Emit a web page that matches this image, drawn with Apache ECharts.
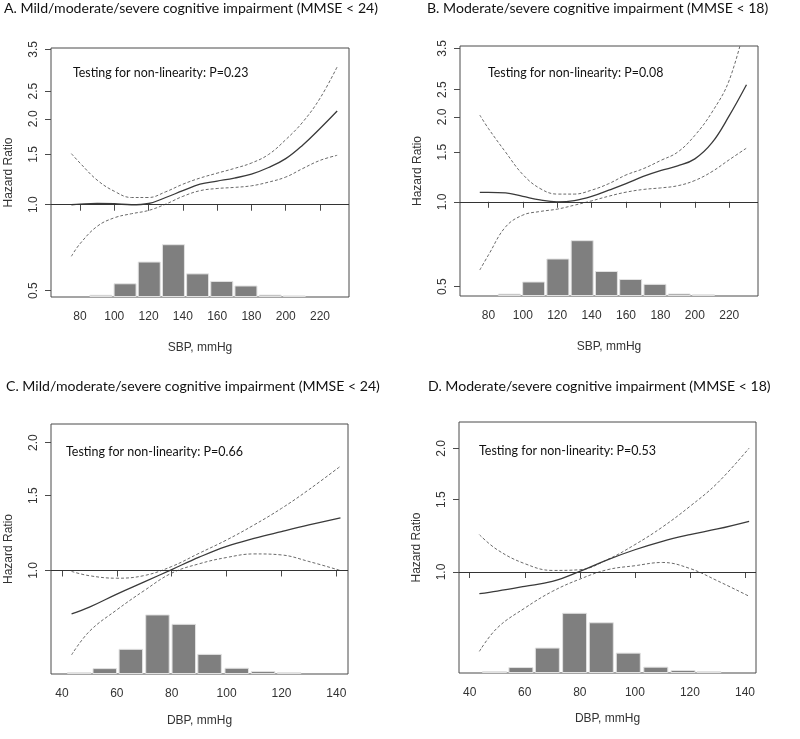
<!DOCTYPE html>
<html>
<head>
<meta charset="utf-8">
<script src="https://cdn.jsdelivr.net/npm/echarts@6/dist/echarts.min.js"></script>
<style>
  html, body { margin: 0; padding: 0; background: #fff; }
  #chart { width: 800px; height: 739px; }
</style>
</head>
<body>
<div id="chart"></div>
<script>
// spline curves (hazard ratio)
const sbpX = [75, 80, 90, 100, 110, 120, 130, 140, 150, 160, 170, 180, 190, 200, 210, 220, 230]
const aEst = [1.0, 1.005, 1.01, 1.008, 1.0, 1.01, 1.06, 1.12, 1.18, 1.21, 1.24, 1.28, 1.35, 1.45, 1.62, 1.85, 2.13]
const aLow = [0.66, 0.73, 0.84, 0.9, 0.93, 0.955, 1.005, 1.07, 1.12, 1.14, 1.15, 1.165, 1.2, 1.25, 1.34, 1.43, 1.49]
const aUp = [1.51, 1.4, 1.22, 1.115, 1.06, 1.06, 1.11, 1.18, 1.24, 1.29, 1.34, 1.4, 1.5, 1.69, 1.95, 2.36, 3.04]
const bEst = [1.08, 1.08, 1.075, 1.045, 1.015, 1.0, 1.01, 1.045, 1.1, 1.16, 1.23, 1.29, 1.34, 1.42, 1.62, 2.02, 2.6]
const bLow = [0.573, 0.647, 0.815, 0.897, 0.924, 0.942, 0.973, 1.008, 1.047, 1.082, 1.106, 1.12, 1.14, 1.19, 1.28, 1.41, 1.55]
const bUp = [2.03, 1.82, 1.5, 1.25, 1.115, 1.065, 1.065, 1.1, 1.16, 1.245, 1.31, 1.4, 1.5, 1.72, 2.08, 2.7, 4.4]

const dbpX = [43.5, 50, 60, 70, 80, 90, 100, 110, 120, 130, 141.5]
const cEst = [0.79, 0.82, 0.88, 0.94, 1.005, 1.075, 1.14, 1.19, 1.235, 1.28, 1.33]
const cLow = [0.633, 0.719, 0.808, 0.897, 0.986, 1.037, 1.073, 1.094, 1.088, 1.05, 1.0]
const cUp = [0.995, 0.972, 0.959, 0.973, 1.022, 1.098, 1.18, 1.28, 1.4, 1.55, 1.76]
const dEst = [0.886, 0.899, 0.923, 0.949, 1.004, 1.071, 1.133, 1.188, 1.233, 1.273, 1.329]
const dLow = [0.641, 0.731, 0.817, 0.897, 0.961, 1.013, 1.036, 1.055, 1.02, 0.952, 0.873]
const dUp = [1.233, 1.133, 1.048, 1.009, 1.013, 1.072, 1.166, 1.287, 1.445, 1.647, 2.003]

// histograms (bin centre, % of participants)
const sbpBins = [92.2, 106.3, 120.4, 134.5, 148.6, 162.7, 176.8, 190.9, 205.0]
const sbpFreq = [1.4, 8.7, 22.5, 33.5, 15.0, 10.2, 7.3, 1.5, 1.0]
const dbpBinsC = [46.3, 55.6, 65.1, 74.8, 84.4, 93.8, 103.7, 113.3, 122.8]
const dbpBinsD = [49.0, 58.6, 68.2, 78.1, 87.8, 97.6, 107.6, 117.5, 126.9]
const dbpFreq = [1.0, 3.4, 14.5, 34.3, 28.9, 11.6, 3.6, 1.7, 1.0]

// tick labels
const sbpTicks = [80, 100, 120, 140, 160, 180, 200, 220]
const dbpTicks = [40, 60, 80, 100, 120, 140]
const hrTicksSbp = [0.5, 1.0, 1.5, 2.0, 2.5, 3.5]
const hrTicksDbp = [1.0, 1.5, 2.0]

const titles = [
  'A. Mild/moderate/severe cognitive impairment (MMSE < 24)',
  'B. Moderate/severe cognitive impairment (MMSE < 18)',
  'C. Mild/moderate/severe cognitive impairment (MMSE < 24)',
  'D. Moderate/severe cognitive impairment (MMSE < 18)'
]
const pValues = ['0.23', '0.08', '0.66', '0.53']

const panels = [
  { grid: [51, 48, 298, 249], x: [63.1, 236.9], y: [-0.744, 1.264], xTicks: sbpTicks, yTicks: hrTicksSbp,
    xName: 'SBP, mmHg', nameGap: 45, xs: sbpX, est: aEst, low: aLow, up: aUp, bins: sbpBins, freq: sbpFreq, histMax: 158, barW: 23,
    title: [4, 1, 374], note: [73, 67, 175] },
  { grid: [460, 46, 298, 250], x: [63.5, 236.7], y: [-0.769, 1.272], xTicks: sbpTicks, yTicks: hrTicksSbp,
    xName: 'SBP, mmHg', nameGap: 45, xs: sbpX, est: bEst, low: bLow, up: bUp, bins: sbpBins, freq: sbpFreq, histMax: 150, barW: 23,
    title: [427, 1, 341], note: [488, 67, 175] },
  { grid: [51, 424, 297, 250], x: [36.0, 144.25], y: [-0.561, 0.794], xTicks: dbpTicks, yTicks: hrTicksDbp,
    xName: 'DBP, mmHg', nameGap: 41, xs: dbpX, est: cEst, low: cLow, up: cUp, bins: dbpBinsC, freq: dbpFreq, histMax: 144, barW: 24.5,
    title: [6, 379, 374], note: [66, 445, 177] },
  { grid: [459, 422, 297, 251], x: [36.1, 144.0], y: [-0.566, 0.841], xTicks: dbpTicks, yTicks: hrTicksDbp,
    xName: 'DBP, mmHg', nameGap: 40, xs: dbpX, est: dEst, low: dLow, up: dUp, bins: dbpBinsD, freq: dbpFreq, histMax: 143, barW: 25,
    title: [428, 379, 342], note: [479, 444, 177] }
]

const axisFont = 'Liberation Sans, Arial, sans-serif'
const textFont = 'Lato'

// pick a font size so the text spans the width seen in the figure
const ctx = document.createElement('canvas').getContext('2d')
const fitSize = (text, width, base) => {
  ctx.font = base + 'px ' + textFont
  return Math.round(base * width / ctx.measureText(text).width * 10) / 10
}

const grid = [], xAxis = [], yAxis = [], series = [], title = []

const pairs = (xs, ys) => xs.map((x, i) => [x, Math.log(ys[i])])

panels.forEach((p, i) => {
  grid.push({
    left: p.grid[0], top: p.grid[1], width: p.grid[2], height: p.grid[3],
    show: true, borderColor: '#4a4a4a', borderWidth: 1, backgroundColor: 'transparent'
  })
  xAxis.push({
    type: 'value', gridIndex: i, min: p.x[0], max: p.x[1],
    name: p.xName, nameLocation: 'middle', nameGap: p.nameGap,
    nameTextStyle: { fontFamily: axisFont, fontSize: 12, color: '#333' },
    axisLine: { show: false },
    axisTick: { show: true, inside: false, length: 6, customValues: p.xTicks, lineStyle: { color: '#4a4a4a' } },
    axisLabel: { customValues: p.xTicks, margin: 14, fontFamily: axisFont, fontSize: 12, color: '#333' },
    splitLine: { show: false }
  })
  const yTickVals = p.yTicks.map(v => Math.log(v))
  yAxis.push({
    type: 'value', gridIndex: i, min: p.y[0], max: p.y[1],
    name: 'Hazard Ratio', nameLocation: 'middle', nameGap: 36, nameRotate: 90,
    nameTextStyle: { fontFamily: axisFont, fontSize: 12, color: '#333' },
    axisLine: { show: false },
    axisTick: { show: true, inside: false, length: 6, customValues: yTickVals, lineStyle: { color: '#4a4a4a' } },
    axisLabel: {
      customValues: yTickVals, rotate: 90, margin: 11, fontFamily: axisFont, fontSize: 12, color: '#333',
      formatter: v => Math.exp(v).toFixed(1)
    },
    splitLine: { show: false }
  })
  yAxis.push({ type: 'value', gridIndex: i, min: 0, max: p.histMax, show: false })

  series.push({
    type: 'bar', xAxisIndex: i, yAxisIndex: 2 * i + 1, z: 1,
    barWidth: p.barW,
    data: p.bins.map((b, k) => [b, p.freq[k]]),
    itemStyle: { color: '#7f7f7f', borderColor: '#e2e2e2', borderWidth: 1 }
  })
  series.push({
    type: 'line', xAxisIndex: i, yAxisIndex: 2 * i, z: 4, smooth: 0.4, symbol: 'none', clip: true,
    data: pairs(p.xs, p.est),
    lineStyle: { color: '#3a3a3a', width: 1.3 },
    markLine: {
      silent: true, symbol: 'none', label: { show: false },
      lineStyle: { color: '#333', type: 'solid', width: 1 },
      data: [{ yAxis: 0 }]
    }
  })
  ;[p.low, p.up].forEach(ci => {
    series.push({
      type: 'line', xAxisIndex: i, yAxisIndex: 2 * i, z: 3, smooth: 0.4, symbol: 'none', clip: true,
      data: pairs(p.xs, ci),
      lineStyle: { color: '#6a6a6a', width: 1, type: [3, 2] }
    })
  })

  const noteText = 'Testing for non-linearity: P=' + pValues[i]
  title.push({
    text: titles[i], left: p.title[0], top: p.title[1], padding: 0,
    textStyle: { fontFamily: textFont, fontSize: fitSize(titles[i], p.title[2], 15), fontWeight: 'normal', color: '#111' }
  })
  title.push({
    text: noteText, left: p.note[0], top: p.note[1], padding: 0,
    textStyle: { fontFamily: textFont, fontSize: fitSize(noteText, p.note[2], 13), fontWeight: 'normal', color: '#111' }
  })
})

const chart = echarts.init(document.getElementById('chart'))
chart.setOption({
  animation: false,
  backgroundColor: '#fff',
  title,
  grid,
  xAxis,
  yAxis,
  series
})
</script>
</body>
</html>
